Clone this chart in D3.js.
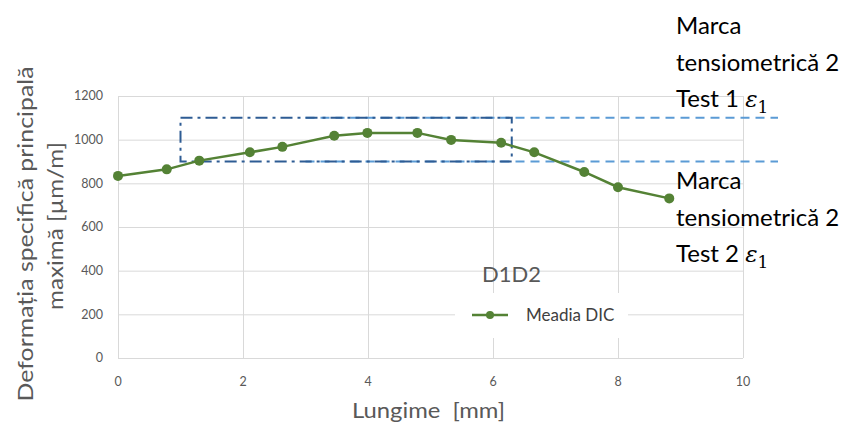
<!DOCTYPE html>
<html>
<head>
<meta charset="utf-8">
<script src="https://cdn.jsdelivr.net/npm/d3@7"></script>
<style>
  body { margin: 0; background: #fff; }
  svg { display: block; font-family: Lato, "Open Sans", sans-serif; }
  .grid line { stroke: #d9d9d9; stroke-width: 1; }
  .grid path { display: none; }
  .tick-label { fill: #595959; font-size: 12.5px; }
  .axis-title { fill: #595959; font-size: 22px; }
  .note { fill: #000; font-size: 24px; }
</style>
</head>
<body>
<div id="chart"></div>
<script>
// Lungime [mm] vs Meadia DIC
const lengthMm = [0, 0.78, 1.30, 2.11, 2.63, 3.46, 3.99, 4.79, 5.33, 6.13, 6.66, 7.46, 8.0, 8.82];
const dicMean = [834, 864, 904, 942, 967, 1018, 1031, 1031, 999, 986, 942, 852, 782, 731];

const xTicks = [0, 2, 4, 6, 8, 10];
const yTicks = [0, 200, 400, 600, 800, 1000, 1200];

// strain gauge 2 levels (test 1 / test 2) and the highlighted zone
const gaugeLevels = [1100, 900];
const gaugeSpan = [3.0, 10.56];
const zoneX = [1.0, 6.3];

const seriesName = 'Meadia DIC';
const legendTitle = 'D1D2';

class LineChart {
    constructor(_config) {
        this.config = {
            parentElement: _config.parentElement,
            containerWidth: 865,
            containerHeight: 428,
            margin: {top: 96, right: 122, bottom: 70, left: 118}
        };
        this.initVis();
    }

    initVis() {
        let vis = this;
        const m = vis.config.margin;
        vis.width = vis.config.containerWidth - m.left - m.right;
        vis.height = vis.config.containerHeight - m.top - m.bottom;

        vis.svg = d3.select(vis.config.parentElement).append('svg')
            .attr('width', vis.config.containerWidth)
            .attr('height', vis.config.containerHeight);

        vis.chart = vis.svg.append('g')
            .attr('transform', `translate(${m.left},${m.top})`);

        vis.xScale = d3.scaleLinear().domain([0, 10]).range([0, vis.width]);
        vis.yScale = d3.scaleLinear().domain([0, 1200]).range([vis.height, 0]);

        vis.renderVis();
    }

    renderVis() {
        let vis = this;
        const x = vis.xScale, y = vis.yScale;

        // gridlines
        vis.chart.append('g').attr('class', 'grid')
            .call(d3.axisLeft(y).tickValues(yTicks).tickSize(-vis.width).tickFormat(''));
        vis.chart.append('g').attr('class', 'grid')
            .attr('transform', `translate(0,${vis.height})`)
            .call(d3.axisBottom(x).tickValues(xTicks).tickSize(-vis.height).tickFormat(''));

        // tick labels
        vis.chart.selectAll('.ylab').data(yTicks).join('text')
            .attr('class', 'tick-label ylab')
            .attr('x', -15).attr('y', d => y(d)).attr('dy', '0.35em')
            .attr('text-anchor', 'end')
            .text(d => d);
        vis.chart.selectAll('.xlab').data(xTicks).join('text')
            .attr('class', 'tick-label xlab')
            .attr('x', d => x(d)).attr('y', vis.height + 28)
            .attr('text-anchor', 'middle')
            .text(d => d);

        // axis titles
        vis.chart.append('text').attr('class', 'axis-title')
            .attr('x', x(5) - 2).attr('y', vis.height + 60)
            .attr('text-anchor', 'middle')
            .attr('textLength', 153).attr('lengthAdjust', 'spacingAndGlyphs')
            .style('white-space', 'pre')
            .text('Lungime  [mm]');
        vis.svg.append('text').attr('class', 'axis-title')
            .attr('transform', 'translate(33,234) rotate(-90)')
            .attr('text-anchor', 'middle')
            .attr('font-size', 23)
            .attr('textLength', 335).attr('lengthAdjust', 'spacingAndGlyphs')
            .text('Deformația specifică principală');
        vis.svg.append('text').attr('class', 'axis-title')
            .attr('transform', 'translate(63,226) rotate(-90)')
            .attr('text-anchor', 'middle')
            .attr('font-size', 23)
            .attr('textLength', 168).attr('lengthAdjust', 'spacingAndGlyphs')
            .text('maximă [µm/m]');

        // gauge lines (light blue dashed)
        vis.chart.selectAll('.gauge').data(gaugeLevels).join('line')
            .attr('class', 'gauge')
            .attr('x1', x(gaugeSpan[0])).attr('x2', x(gaugeSpan[1]))
            .attr('y1', d => y(d)).attr('y2', d => y(d))
            .attr('stroke', '#5b9bd5').attr('stroke-width', 2)
            .attr('stroke-dasharray', '9,6');

        // highlighted zone (dark blue dash-dot)
        vis.chart.append('rect')
            .attr('x', x(zoneX[0])).attr('y', y(d3.max(gaugeLevels)))
            .attr('width', x(zoneX[1]) - x(zoneX[0]))
            .attr('height', y(d3.min(gaugeLevels)) - y(d3.max(gaugeLevels)))
            .attr('fill', 'none')
            .attr('stroke', '#2e5c94').attr('stroke-width', 2)
            .attr('stroke-dasharray', '12,5,3,5');

        // series
        const pts = lengthMm.map((d, i) => [d, dicMean[i]]);
        vis.chart.append('path')
            .datum(pts)
            .attr('fill', 'none')
            .attr('stroke', '#548235').attr('stroke-width', 2.5)
            .attr('d', d3.line().x(d => x(d[0])).y(d => y(d[1])));
        vis.chart.selectAll('.pt').data(pts).join('circle')
            .attr('class', 'pt')
            .attr('cx', d => x(d[0])).attr('cy', d => y(d[1]))
            .attr('r', 5)
            .attr('fill', '#548235');

        // legend
        vis.svg.append('text')
            .attr('x', 482).attr('y', 282)
            .attr('fill', '#595959').attr('font-size', 22)
            .text(legendTitle);
        const lg = vis.svg.append('g').attr('transform', 'translate(455,293)');
        lg.append('rect').attr('width', 173).attr('height', 45).attr('fill', '#fff');
        lg.append('line').attr('x1', 17).attr('x2', 53).attr('y1', 22).attr('y2', 22)
            .attr('stroke', '#548235').attr('stroke-width', 2.5);
        lg.append('circle').attr('cx', 35).attr('cy', 22).attr('r', 4).attr('fill', '#548235');
        lg.append('text').attr('x', 71).attr('y', 28)
            .attr('fill', '#404040').attr('font-size', 17)
            .text(seriesName);

        // side notes
        const notes = [
            {top: 34, test: 'Test 1 '},
            {top: 189, test: 'Test 2 '}
        ];
        notes.forEach(n => {
            const t = vis.svg.append('text').attr('class', 'note')
                .style('white-space', 'pre');
            t.append('tspan').attr('x', 676).attr('y', n.top).text('Marca');
            t.append('tspan').attr('x', 676).attr('y', n.top + 37).text('tensiometrică 2');
            t.append('tspan').attr('x', 676).attr('y', n.top + 73).text(n.test);
            t.append('tspan').attr('font-family', 'DejaVu Serif, serif').attr('font-style', 'italic')
                .attr('font-size', 23).text('ε');
            t.append('tspan').attr('dy', 6).attr('font-size', 17)
                .attr('font-family', 'DejaVu Serif, serif').text('1');
        });
    }
}

new LineChart({parentElement: '#chart'});
</script>
</body>
</html>
